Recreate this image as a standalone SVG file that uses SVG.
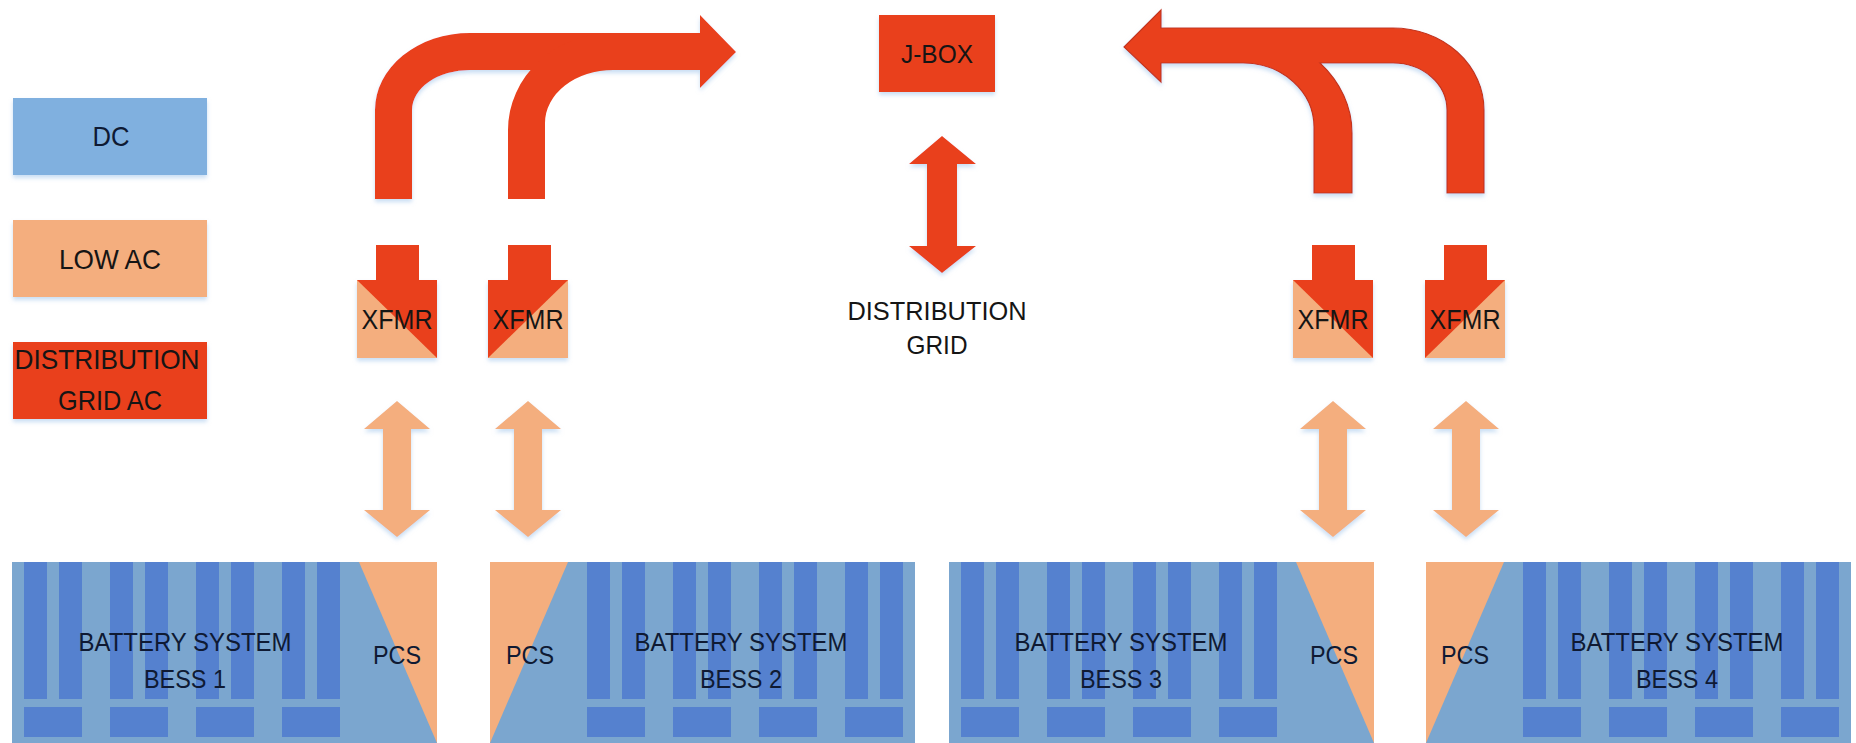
<svg xmlns="http://www.w3.org/2000/svg" xmlns:xlink="http://www.w3.org/1999/xlink" width="1856" height="743" viewBox="0 0 1856 743">
<style>
  .red{fill:#E9401C}
  .peach{fill:#F4AE7E}
  .dc{fill:#80B0DF}
  .bg{fill:#7BA6CF}
  .bar{fill:#5581CF}
  .t{font-family:"Liberation Sans",Arial,sans-serif;font-size:25px;fill:#151515;text-anchor:middle}
  .tb{fill:#0f1a33}
  .lg{font-size:28px}
  .xf{font-size:27px}
  .pc{font-size:25px}
  .sh{filter:url(#shadow)}
  .outl{stroke:#C4361A;stroke-width:1.2}
</style>
<defs>
  <filter id="shadow" x="-20%" y="-20%" width="140%" height="150%">
    <feDropShadow dx="0" dy="3" stdDeviation="2" flood-color="#9CC2EA" flood-opacity="0.55"/>
  </filter>
  <g id="bars">
    <rect class="bar" x="12" y="0" width="23" height="137"/>
    <rect class="bar" x="47" y="0" width="23" height="137"/>
    <rect class="bar" x="98" y="0" width="23" height="137"/>
    <rect class="bar" x="133" y="0" width="23" height="137"/>
    <rect class="bar" x="184" y="0" width="23" height="137"/>
    <rect class="bar" x="219" y="0" width="23" height="137"/>
    <rect class="bar" x="270" y="0" width="23" height="137"/>
    <rect class="bar" x="305" y="0" width="23" height="137"/>
    <rect class="bar" x="12" y="145" width="58" height="30"/>
    <rect class="bar" x="98" y="145" width="58" height="30"/>
    <rect class="bar" x="184" y="145" width="58" height="30"/>
    <rect class="bar" x="270" y="145" width="58" height="30"/>
  </g>
  <path id="dblPeach" d="M0,0 L33,28 L14,28 L14,109 L33,109 L0,136 L-33,109 L-14,109 L-14,28 L-33,28 Z"/>
</defs>

<!-- Legend -->
<g id="legend-dc">
  <rect class="dc sh" x="13" y="98" width="194" height="77"/>
  <text class="t tb lg" x="111" y="146" textLength="37" lengthAdjust="spacingAndGlyphs">DC</text>
</g>
<g id="legend-lowac">
  <rect class="peach sh" x="13" y="220" width="194" height="77"/>
  <text class="t lg" x="110" y="269" textLength="102" lengthAdjust="spacingAndGlyphs">LOW AC</text>
</g>
<g id="legend-gridac">
  <rect class="red sh" x="13" y="342" width="194" height="77"/>
  <text class="t lg" x="107" y="369" textLength="185" lengthAdjust="spacingAndGlyphs">DISTRIBUTION</text>
  <text class="t lg" x="110" y="410" textLength="104" lengthAdjust="spacingAndGlyphs">GRID AC</text>
</g>

<!-- J-BOX -->
<g id="jbox">
  <rect class="red sh" x="879" y="15" width="116" height="77"/>
  <text class="t" x="937" y="63" textLength="72" lengthAdjust="spacingAndGlyphs">J-BOX</text>
</g>

<!-- Distribution grid label -->
<g id="distribution-grid">
  <text class="t" x="937" y="320" style="font-size:26px" textLength="179" lengthAdjust="spacingAndGlyphs">DISTRIBUTION</text>
  <text class="t" x="937" y="354" style="font-size:26px" textLength="61" lengthAdjust="spacingAndGlyphs">GRID</text>
</g>

<!-- Transformers -->
<g id="xfmr1">
  <rect class="peach sh" x="357" y="280" width="80" height="78"/>
  <polygon class="red" points="357,280 437,280 437,358"/>
  <text class="t xf" x="397" y="329" textLength="71" lengthAdjust="spacingAndGlyphs">XFMR</text>
</g>
<g id="xfmr2">
  <rect class="peach sh" x="488" y="280" width="80" height="78"/>
  <polygon class="red" points="488,280 568,280 488,358"/>
  <text class="t xf" x="528" y="329" textLength="71" lengthAdjust="spacingAndGlyphs">XFMR</text>
</g>
<g id="xfmr3">
  <rect class="peach sh" x="1293" y="280" width="80" height="78"/>
  <polygon class="red" points="1293,280 1373,280 1373,358"/>
  <text class="t xf" x="1333" y="329" textLength="71" lengthAdjust="spacingAndGlyphs">XFMR</text>
</g>
<g id="xfmr4">
  <rect class="peach sh" x="1425" y="280" width="80" height="78"/>
  <polygon class="red" points="1425,280 1505,280 1425,358"/>
  <text class="t xf" x="1465" y="329" textLength="71" lengthAdjust="spacingAndGlyphs">XFMR</text>
</g>

<!-- Battery systems -->
<g id="bess1">
  <rect class="bg" x="12" y="562" width="425" height="181"/>
  <use xlink:href="#bars" href="#bars" transform="translate(12,562)"/>
  <polygon class="peach" points="359,562 437,562 437,743"/>
  <text class="t tb" x="185" y="651" textLength="213" lengthAdjust="spacingAndGlyphs">BATTERY SYSTEM</text>
  <text class="t tb" x="185" y="688" textLength="82" lengthAdjust="spacingAndGlyphs">BESS 1</text>
  <text class="t tb pc" x="397" y="664" textLength="48" lengthAdjust="spacingAndGlyphs">PCS</text>
</g>
<g id="bess2">
  <rect class="bg" x="490" y="562" width="425" height="181"/>
  <use xlink:href="#bars" href="#bars" transform="translate(915,562) scale(-1,1)"/>
  <polygon class="peach" points="490,562 568,562 490,743"/>
  <text class="t tb" x="741" y="651" textLength="213" lengthAdjust="spacingAndGlyphs">BATTERY SYSTEM</text>
  <text class="t tb" x="741" y="688" textLength="82" lengthAdjust="spacingAndGlyphs">BESS 2</text>
  <text class="t tb pc" x="530" y="664" textLength="48" lengthAdjust="spacingAndGlyphs">PCS</text>
</g>
<g id="bess3">
  <rect class="bg" x="949" y="562" width="425" height="181"/>
  <use xlink:href="#bars" href="#bars" transform="translate(949,562)"/>
  <polygon class="peach" points="1296,562 1374,562 1374,743"/>
  <text class="t tb" x="1121" y="651" textLength="213" lengthAdjust="spacingAndGlyphs">BATTERY SYSTEM</text>
  <text class="t tb" x="1121" y="688" textLength="82" lengthAdjust="spacingAndGlyphs">BESS 3</text>
  <text class="t tb pc" x="1334" y="664" textLength="48" lengthAdjust="spacingAndGlyphs">PCS</text>
</g>
<g id="bess4">
  <rect class="bg" x="1426" y="562" width="425" height="181"/>
  <use xlink:href="#bars" href="#bars" transform="translate(1851,562) scale(-1,1)"/>
  <polygon class="peach" points="1426,562 1504,562 1426,743"/>
  <text class="t tb" x="1677" y="651" textLength="213" lengthAdjust="spacingAndGlyphs">BATTERY SYSTEM</text>
  <text class="t tb" x="1677" y="688" textLength="82" lengthAdjust="spacingAndGlyphs">BESS 4</text>
  <text class="t tb pc" x="1465" y="664" textLength="48" lengthAdjust="spacingAndGlyphs">PCS</text>
</g>

<!-- Connectors -->
<g id="connectors">
  <!-- left bent arrows into J-BOX -->
  <path class="red sh" d="M375,199 L375,110 A95,77 0 0 1 470,33 L700,33 L700,15 L736,52 L700,88 L700,70 L470,70 A58,40 0 0 0 412,110 L412,199 Z"/>
  <path class="red" d="M508,199 L508,130 A105,97 0 0 1 613,33 L701,33 L701,70 L613,70 A68,53 0 0 0 545,123 L545,199 Z"/>
  <!-- right bent arrows into J-BOX (merged outline) -->
  <path class="red sh outl" d="M1124,47 L1161,10 L1161,28 L1393,28 A91,82 0 0 1 1484,110 L1484,193 L1447,193 L1447,110 A54,47 0 0 0 1393,63 L1320,63 A126,105 0 0 1 1352,133 L1352,193 L1314,193 L1314,127 A71,64 0 0 0 1243,63 L1161,63 L1161,82 Z"/>

  <!-- XFMR input shafts -->
  <rect class="red" x="376" y="245" width="43" height="36"/>
  <rect class="red" x="508" y="245" width="43" height="36"/>
  <rect class="red" x="1312" y="245" width="43" height="36"/>
  <rect class="red" x="1444" y="245" width="43" height="36"/>

  <!-- J-BOX to distribution grid -->
  <path class="red sh" d="M942,136 L976,164 L957,164 L957,246 L976,246 L942,273 L909,246 L927,246 L927,164 L909,164 Z"/>

  <!-- XFMR to PCS double arrows -->
  <use xlink:href="#dblPeach" href="#dblPeach" class="peach sh" transform="translate(397,401)"/>
  <use xlink:href="#dblPeach" href="#dblPeach" class="peach sh" transform="translate(528,401)"/>
  <use xlink:href="#dblPeach" href="#dblPeach" class="peach sh" transform="translate(1333,401)"/>
  <use xlink:href="#dblPeach" href="#dblPeach" class="peach sh" transform="translate(1466,401)"/>
</g>
</svg>
